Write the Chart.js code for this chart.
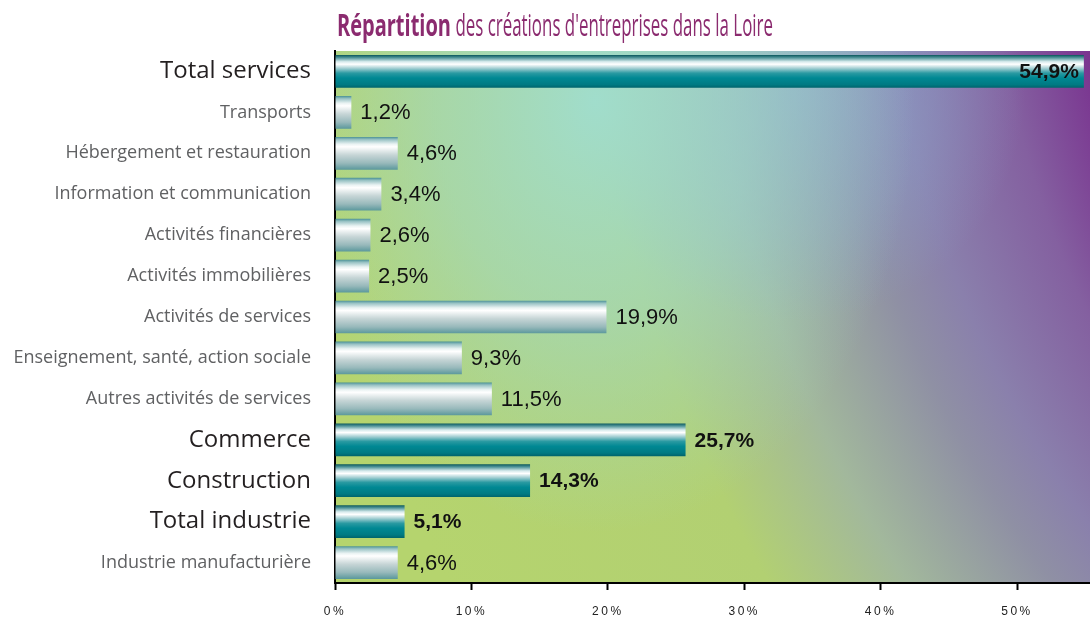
<!DOCTYPE html>
<html lang="fr">
<head>
<meta charset="utf-8">
<title>Répartition des créations d'entreprises dans la Loire</title>
<script src="https://cdn.jsdelivr.net/npm/chart.js@4.4.1/dist/chart.umd.min.js"></script>
<style>
  html, body { margin: 0; padding: 0; background: #fff; }
  #wrap { width: 1090px; height: 618px; }
</style>
</head>
<body>
<div id="wrap"><canvas id="chart" width="1090" height="618"></canvas></div>
<script>
// données (en % des créations)
const categories = [
    'Total services', 'Transports', 'Hébergement et restauration',
    'Information et communication', 'Activités financières', 'Activités immobilières',
    'Activités de services', 'Enseignement, santé, action sociale', 'Autres activités de services',
    'Commerce', 'Construction', 'Total industrie', 'Industrie manufacturière'
];
const shares = [54.9, 1.2, 4.6, 3.4, 2.6, 2.5, 19.9, 9.3, 11.5, 25.7, 14.3, 5.1, 4.6];
// lignes de total (barres foncées, libellés en gras)
const isTotal = [true, false, false, false, false, false, false, false, false, true, true, true, false];
const xTicks = [0, 10, 20, 30, 40, 50];

const titleBold = 'Répartition';
const titleRest = " des créations d'entreprises dans la Loire";

const fmt = v => v.toFixed(1).replace('.', ',') + '%';

// dégradé "métal" des barres
function barGradient(ctx) {
    const chart = ctx.chart;
    const y = chart.scales.y;
    const dark = isTotal[ctx.dataIndex];
    if (!y || !chart.chartArea) return dark ? '#00838c' : '#b8d0d1';
    const c = y.getPixelForValue(ctx.dataIndex);
    const half = (y.height / categories.length) * 0.8 / 2;
    const g = chart.ctx.createLinearGradient(0, c - half, 0, c + half);
    if (dark) {
        g.addColorStop(0, '#0b585e');
        g.addColorStop(0.08, '#4f9499');
        g.addColorStop(0.2, '#d6eaec');
        g.addColorStop(0.28, '#ffffff');
        g.addColorStop(0.4, '#a6d0d4');
        g.addColorStop(0.55, '#2a9aa2');
        g.addColorStop(0.7, '#008893');
        g.addColorStop(0.9, '#007a83');
        g.addColorStop(1, '#00646c');
    } else {
        g.addColorStop(0, '#4a9195');
        g.addColorStop(0.08, '#98c2c4');
        g.addColorStop(0.22, '#eaf3f3');
        g.addColorStop(0.3, '#ffffff');
        g.addColorStop(0.55, '#c6d5d6');
        g.addColorStop(0.8, '#98b9bb');
        g.addColorStop(1, '#5b989c');
    }
    return g;
}

// fond dégradé de la zone de tracé
const plotBackground = {
    id: 'plotBackground',
    beforeDraw(chart) {
        const { ctx, chartArea: a } = chart;
        const w = a.right - a.left, h = a.bottom - a.top;
        ctx.save();
        ctx.beginPath();
        ctx.rect(a.left, a.top, w, h);
        ctx.clip();
        // violet en haut à droite vers vert en bas à gauche
        const cx = a.right + 900, cy = a.top - 175;
        const rad = ctx.createRadialGradient(cx, cy, 0, cx, cy, 1700);
        rad.addColorStop(0, '#7a3590');
        rad.addColorStop(0.54, '#7a3590');
        rad.addColorStop(0.59, '#8460a0');
        rad.addColorStop(0.653, '#8a80ac');
        rad.addColorStop(0.69, '#8f90a4');
        rad.addColorStop(0.76, '#a2b89c');
        rad.addColorStop(0.83, '#b2d072');
        rad.addColorStop(1, '#b5d46e');
        ctx.fillStyle = rad;
        ctx.fillRect(a.left, a.top, w, h);

        // halo bleuté en haut
        const blue = ctx.createRadialGradient(a.left + 460, a.top + 40, 0, a.left + 460, a.top + 40, 230);
        blue.addColorStop(0, 'rgba(140, 168, 208, 0.75)');
        blue.addColorStop(0.6, 'rgba(140, 168, 208, 0.35)');
        blue.addColorStop(1, 'rgba(140, 168, 208, 0)');
        ctx.fillStyle = blue;
        ctx.fillRect(a.left, a.top, w, h);

        // halo menthe en haut
        ctx.translate(a.left + 260, a.top + 50);
        ctx.scale(1, 1.35);
        const glow = ctx.createRadialGradient(0, 0, 0, 0, 0, 320);
        glow.addColorStop(0, 'rgba(160, 222, 208, 0.95)');
        glow.addColorStop(0.5, 'rgba(160, 218, 202, 0.6)');
        glow.addColorStop(1, 'rgba(160, 218, 200, 0)');
        ctx.fillStyle = glow;
        ctx.fillRect(-400, -100, 900, 600);
        ctx.restore();
    }
};

// valeurs au bout des barres
const valueLabels = {
    id: 'valueLabels',
    afterDatasetsDraw(chart) {
        const ctx = chart.ctx;
        const meta = chart.getDatasetMeta(0);
        ctx.save();
        ctx.textBaseline = 'middle';
        ctx.fillStyle = '#111';
        meta.data.forEach((bar, i) => {
            const text = fmt(shares[i]);
            ctx.font = isTotal[i] ? 'bold 21px "Liberation Sans", Arial, sans-serif'
                                  : '22px "Liberation Sans", Arial, sans-serif';
            const tw = ctx.measureText(text).width;
            if (bar.x + 9 + tw > chart.chartArea.right) {
                ctx.textAlign = 'right';
                ctx.fillText(text, bar.x - 5, bar.y + 1);
            } else {
                ctx.textAlign = 'left';
                ctx.fillText(text, bar.x + 9, bar.y + 1);
            }
        });
        ctx.restore();
        // espacement des lettres pour les graduations de l'axe x (dessinées ensuite)
        ctx.letterSpacing = '2.5px';
    },
    afterDraw(chart) {
        chart.ctx.letterSpacing = '0px';
    }
};

// titre
const titlePlugin = {
    id: 'titlePlugin',
    afterDraw(chart) {
        const ctx = chart.ctx;
        ctx.save();
        ctx.fillStyle = '#8b2b6f';
        ctx.textBaseline = 'alphabetic';
        ctx.textAlign = 'left';
        const bold = '700 31px "Open Sans"', reg = '400 31px "Open Sans"';
        ctx.font = bold;
        const wb = ctx.measureText(titleBold).width;
        ctx.font = reg;
        const wr = ctx.measureText(titleRest).width;
        ctx.save();
        ctx.translate(337, 36);
        ctx.scale(114 / wb, 1);
        ctx.font = bold;
        ctx.fillText(titleBold, 0, 0);
        ctx.restore();
        ctx.translate(451, 36);
        ctx.scale(322 / wr, 1);
        ctx.font = reg;
        ctx.fillText(titleRest, 0, 0);
        ctx.restore();
    }
};

new Chart(document.getElementById('chart'), {
    type: 'bar',
    data: {
        labels: categories,
        datasets: [{
            data: shares,
            backgroundColor: barGradient,
            borderWidth: 0,
            barPercentage: 0.8,
            categoryPercentage: 1
        }]
    },
    options: {
        indexAxis: 'y',
        responsive: false,
        animation: false,
        devicePixelRatio: 1,
        layout: { padding: { top: 51, right: 0, left: 0, bottom: 0 } },
        plugins: {
            legend: { display: false },
            tooltip: { enabled: false },
            title: { display: false }
        },
        scales: {
            x: {
                min: 0,
                max: 55.35,
                afterBuildTicks: s => { s.ticks = xTicks.map(v => ({ value: v })); },
                afterFit: s => { s.height = 35; },
                ticks: {
                    callback: v => v + '%',
                    color: '#222',
                    font: { family: '"Liberation Sans", Arial, sans-serif', size: 12 },
                    padding: 14,
                    maxRotation: 0,
                    z: 1
                },
                grid: {
                    display: true,
                    drawOnChartArea: false,
                    drawTicks: true,
                    tickLength: 7,
                    tickWidth: 2,
                    tickColor: '#000'
                },
                border: { display: true, color: '#000', width: 2 }
            },
            y: {
                afterFit: s => { s.width = 335; s.paddingTop = 0; s.paddingBottom = 0; },
                ticks: {
                    padding: 24,
                    autoSkip: false,
                    font: c => isTotal[c.index]
                        ? { family: '"Open Sans"', size: 24 }
                        : { family: '"Open Sans"', size: 18 },
                    color: c => isTotal[c.index] ? '#231f20' : '#606163'
                },
                grid: { display: false, drawTicks: false },
                border: { display: true, color: '#000', width: 2 }
            }
        }
    },
    plugins: [plotBackground, valueLabels, titlePlugin]
});
</script>
</body>
</html>
